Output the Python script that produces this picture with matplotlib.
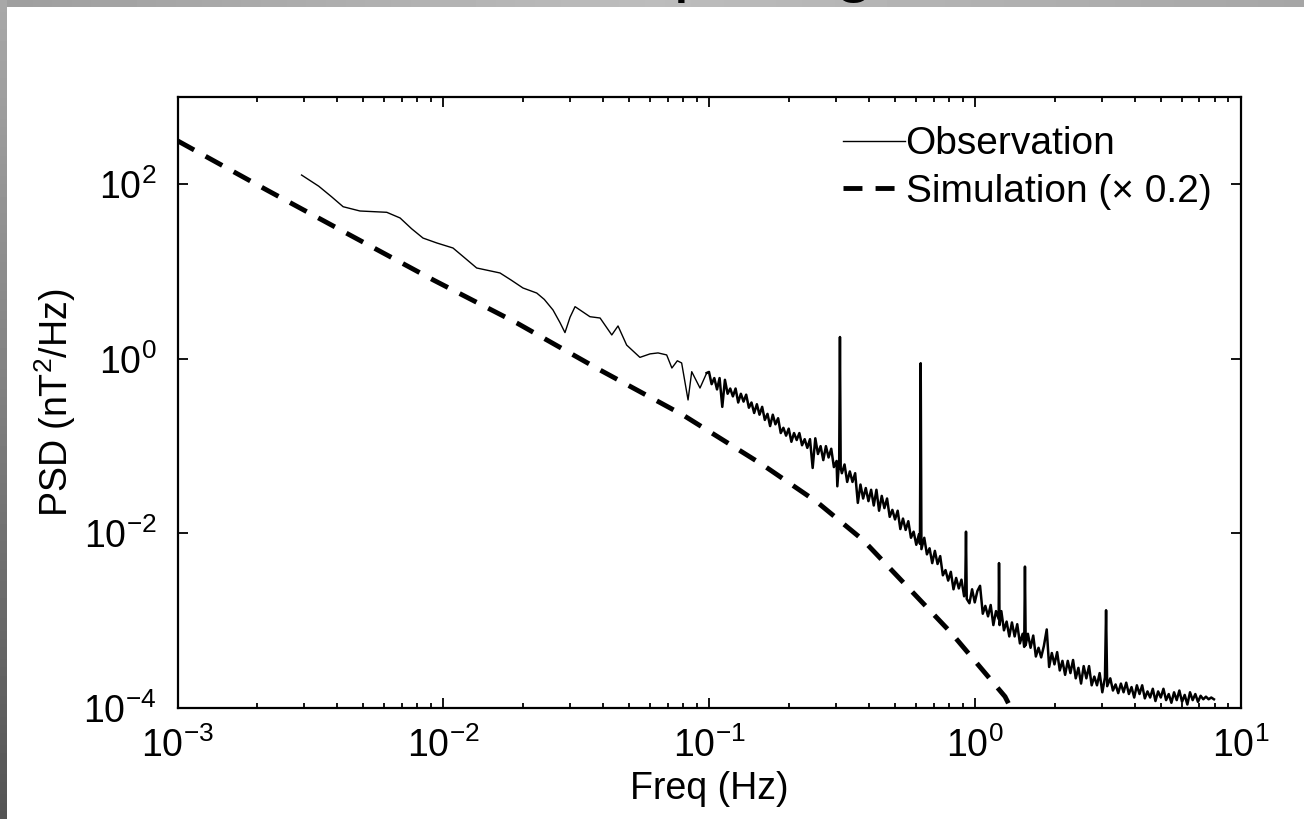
import matplotlib
matplotlib.use("Agg")
import matplotlib.pyplot as plt
import numpy as np
from matplotlib import ticker

obs_freq = [
    0.00293, 0.00340, 0.00380, 0.00420, 0.00486, 0.00550, 0.00613, 0.00688,
    0.00760, 0.00839, 0.00945, 0.01088, 0.0120, 0.01336, 0.01635, 0.0180,
    0.01995, 0.02248, 0.0240, 0.02588, 0.0275, 0.02871, 0.0300, 0.03133,
    0.03564, 0.03892, 0.04307, 0.04546, 0.04899, 0.05496, 0.0600, 0.0643,
    0.0693, 0.0725, 0.0760, 0.0789, 0.0834, 0.0861, 0.0925, 0.0980,
    # 0.1 - 0.3 Hz
    0.1000, 0.1023, 0.1047, 0.1072, 0.1096, 0.1122, 0.1148, 0.1175, 0.1202, 0.1230,
    0.1259, 0.1288, 0.1318, 0.1349, 0.1380, 0.1413, 0.1445, 0.1479, 0.1514, 0.1549,
    0.1585, 0.1622, 0.1660, 0.1698, 0.1738, 0.1778, 0.1820, 0.1862, 0.1905, 0.1950,
    0.1995, 0.2042, 0.2089, 0.2138, 0.2188, 0.2239, 0.2291, 0.2344, 0.2399, 0.2455,
    0.2512, 0.2570, 0.2630, 0.2692, 0.2754, 0.2818, 0.2884, 0.2951, 0.3020, 0.304,
    0.3090, 0.311, 0.313,
    # 0.3 - 1 Hz
    0.3162, 0.3236, 0.3311, 0.3388, 0.3467, 0.3548, 0.3631, 0.3715, 0.3802, 0.3890,
    0.3981, 0.4074, 0.4169, 0.4266, 0.4365, 0.4467, 0.4571, 0.4677, 0.4786, 0.4898,
    0.5012, 0.5129, 0.5248, 0.5370, 0.5495, 0.5623, 0.5754, 0.5888, 0.6026, 0.6166,
    0.622, 0.626, 0.630, 0.6457, 0.6607, 0.6761, 0.6918, 0.7079, 0.7244, 0.7413,
    0.7586, 0.7762, 0.7943, 0.8128, 0.8318, 0.8511, 0.8710, 0.8913, 0.9120, 0.921,
    0.927, 0.933, 0.9550, 0.9772,
    # 1 - 3 Hz
    1.000, 1.023, 1.047, 1.072, 1.096, 1.122, 1.148, 1.175, 1.202, 1.230,
    1.234, 1.240, 1.259, 1.288, 1.318, 1.349, 1.380, 1.413, 1.445, 1.479,
    1.514, 1.535, 1.545, 1.555, 1.585, 1.622, 1.660, 1.698, 1.738, 1.778,
    1.820, 1.866, 1.905, 1.950, 1.995, 2.042, 2.089, 2.138, 2.188, 2.239,
    2.291, 2.344, 2.399, 2.455, 2.512, 2.570, 2.630, 2.692, 2.754, 2.818,
    2.884, 2.951, 3.020, 3.090, 3.12, 3.15,
    # 3 - 8 Hz
    3.236, 3.311, 3.388, 3.467, 3.548, 3.631, 3.715, 3.802, 3.890, 3.981,
    4.074, 4.169, 4.266, 4.365, 4.467, 4.571, 4.677, 4.786, 4.898, 5.012,
    5.129, 5.248, 5.370, 5.495, 5.623, 5.754, 5.888, 6.026, 6.166, 6.310,
    6.457, 6.607, 6.761, 6.918, 7.079, 7.244, 7.413, 7.586, 7.762, 7.943,
]
obs_log_psd = [
    2.106, 1.978, 1.857, 1.743, 1.694, 1.686, 1.679, 1.614,
    1.491, 1.384, 1.328, 1.270, 1.161, 1.041, 0.984, 0.903,
    0.812, 0.754, 0.681, 0.560, 0.415, 0.301, 0.477, 0.598,
    0.483, 0.468, 0.274, 0.377, 0.158, 0.017, 0.057, 0.068,
    0.045, -0.105, -0.022, -0.047, -0.471, -0.147, -0.334, -0.162,
    # 0.1 - 0.3 Hz
    -0.15, -0.29, -0.22, -0.35, -0.22, -0.55, -0.24, -0.40, -0.34, -0.43,
    -0.34, -0.50, -0.40, -0.49, -0.41, -0.56, -0.50, -0.62, -0.52, -0.64,
    -0.55, -0.70, -0.63, -0.77, -0.64, -0.75, -0.68, -0.85, -0.79, -0.88,
    -0.80, -0.95, -0.85, -0.93, -0.85, -0.99, -0.92, -1.02, -0.92, -1.25,
    -0.91, -1.09, -1.00, -1.16, -1.00, -1.13, -1.03, -1.24, -1.17, -1.46,
    -1.15, 0.25, -1.25,
    # 0.3 - 1 Hz
    -1.31, -1.21, -1.41, -1.29, -1.41, -1.31, -1.65, -1.44, -1.60, -1.48,
    -1.63, -1.50, -1.68, -1.50, -1.74, -1.57, -1.71, -1.60, -1.81, -1.73,
    -1.84, -1.74, -1.95, -1.83, -1.96, -1.86, -2.05, -1.98, -2.13, -2.01,
    -2.12, -0.05, -2.18, -2.05, -2.24, -2.17, -2.34, -2.20, -2.35, -2.26,
    -2.48, -2.42, -2.54, -2.44, -2.64, -2.51, -2.63, -2.53, -2.72, -2.62,
    -1.98, -2.75, -2.80, -2.64,
    # 1 - 3 Hz
    -2.79, -2.66, -2.60, -2.92, -2.83, -2.95, -2.82, -3.05, -2.89, -2.98,
    -2.34, -3.05, -2.89, -3.11, -3.01, -3.18, -3.02, -3.18, -3.04, -3.26,
    -3.15, -3.30, -2.38, -3.28, -3.15, -3.31, -3.17, -3.41, -3.31, -3.42,
    -3.29, -3.10, -3.53, -3.37, -3.50, -3.36, -3.57, -3.46, -3.62, -3.46,
    -3.60, -3.45, -3.66, -3.54, -3.72, -3.52, -3.66, -3.52, -3.74, -3.64,
    -3.74, -3.60, -3.82, -3.65, -2.88, -3.75,
    # 3 - 8 Hz
    -3.66, -3.80, -3.73, -3.83, -3.72, -3.82, -3.71, -3.84, -3.76, -3.88,
    -3.74, -3.84, -3.74, -3.89, -3.81, -3.88, -3.78, -3.92, -3.81, -3.88,
    -3.78, -3.91, -3.84, -3.94, -3.82, -3.91, -3.80, -3.93, -3.85, -3.96,
    -3.82, -3.91, -3.84, -3.93, -3.86, -3.90, -3.87, -3.90, -3.88, -3.90,
]

# simulated spectrum (already scaled by 0.2)
sim_freq = [0.001, 0.002167, 0.004457, 0.009176, 0.0189, 0.0389, 0.0798,
            0.1596, 0.254, 0.380, 0.818, 1.300, 1.45]
sim_psd = [315, 86.0, 26.2, 8.01, 2.58, 0.745, 0.2275,
           0.0608, 0.0231, 0.0084, 0.000718, 0.000135, 0.00007]

obs_f = np.array(obs_freq)
obs_psd = 10.0 ** np.array(obs_log_psd)
# low-frequency part is a thin smooth line, the rest a dense noisy band
smooth = obs_f <= 0.1
noisy = obs_f >= 0.098

plt.rcParams["font.family"] = ["Liberation Sans", "DejaVu Sans"]
plt.rcParams["mathtext.fontset"] = "custom"
plt.rcParams["mathtext.rm"] = "Liberation Sans"
plt.rcParams["mathtext.default"] = "regular"

W, H = 1304, 819
fig = plt.figure(figsize=(W / 100, H / 100), dpi=100)

# grey slide edges behind the chart
bg = fig.add_axes([0, 0, 1, 1], zorder=-1)
top_band = np.interp(np.linspace(0, 1, 200), [0, 0.5, 1], [0.62, 0.74, 0.65])[None, :]
left_band = np.interp(np.linspace(0, 1, 200), [0, 1], [0.66, 0.33])[:, None]
bg.imshow(top_band, extent=(0, W, 7, 0), cmap="gray", vmin=0, vmax=1, aspect="auto")
bg.imshow(left_band, extent=(0, 7, H, 0), cmap="gray", vmin=0, vmax=1, aspect="auto")
bg.set_xlim(0, W)
bg.set_ylim(H, 0)
bg.axis("off")

# slide title, mostly cut off at the top edge
fig.text(521 / W, 1 + 12 / H, "Comparing", fontsize=52, va="baseline", ha="left")

ax = fig.add_axes([177.5 / W, 1 - 708 / H, 1063 / W, 611 / H])
ax.plot(obs_f[smooth], obs_psd[smooth], color="black", lw=1.0, label="Observation")
ax.plot(obs_f[noisy], obs_psd[noisy], color="black", lw=1.8)
ax.plot(sim_freq, sim_psd, color="black", lw=3.5, dashes=(3.9, 2.7),
        label="Simulation (× 0.2)")

ax.set_xscale("log")
ax.set_yscale("log")
ax.set_xlim(1e-3, 1e1)
ax.set_ylim(1e-4, 1e3)
ax.yaxis.set_major_locator(ticker.FixedLocator([1e-4, 1e-2, 1e0, 1e2]))
ax.yaxis.set_minor_locator(ticker.NullLocator())
ax.yaxis.set_major_formatter(ticker.LogFormatterMathtext())
ax.tick_params(which="both", direction="in", top=True, right=True,
               labelsize=27, width=1.3, colors="black")
ax.tick_params(which="major", length=7.5)
ax.tick_params(which="minor", length=3.6)
ax.tick_params(axis="x", which="major", pad=14)
ax.tick_params(axis="y", which="major", pad=15)
for s in ax.spines.values():
    s.set_linewidth(1.6)

ax.set_xlabel("Freq (Hz)", fontsize=27, labelpad=4)
ax.set_ylabel("PSD (nT$^2$/Hz)", fontsize=27, labelpad=4)
ax.legend(loc="upper right", frameon=False, fontsize=28, handlelength=1.6,
          handletextpad=0.02, labelspacing=0.3, borderaxespad=0.35)

fig.savefig("out.png", dpi=100)
